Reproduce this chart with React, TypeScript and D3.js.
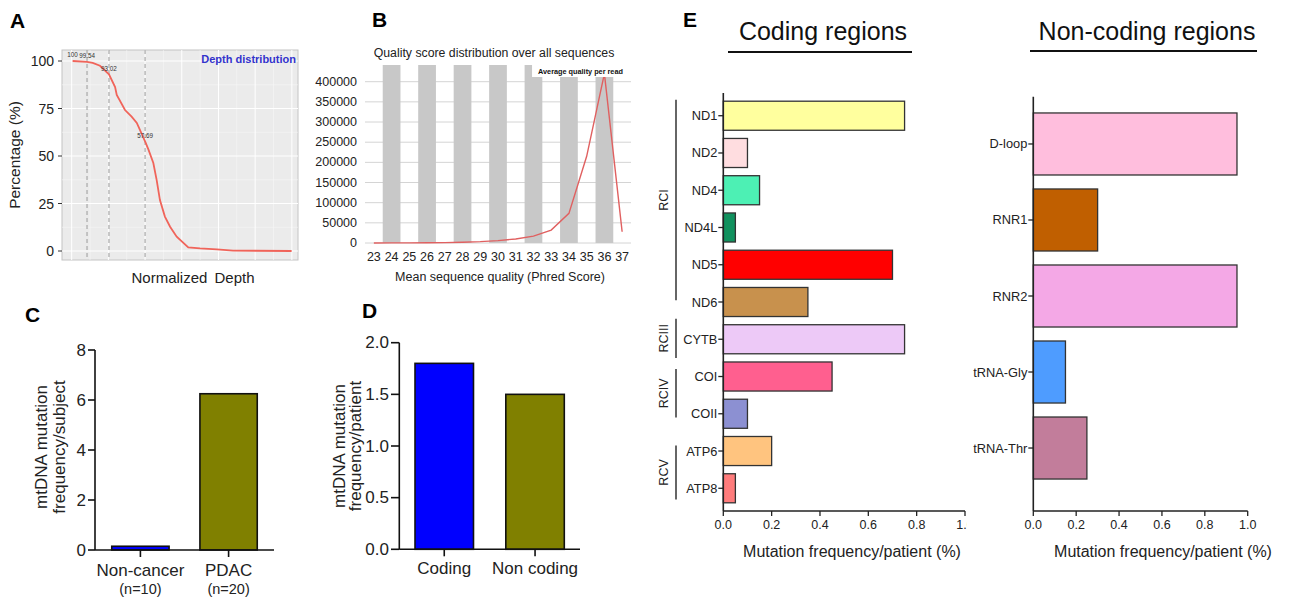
import React from 'react';
import * as d3 from 'd3';

const FONT = "'Liberation Sans', Arial, Helvetica, sans-serif";

// ---------- Panel A: depth distribution ----------
const depthX = [4.5, 10.6, 13, 16.1, 19.9, 22.5, 23.2, 26.7, 29.5, 31.7, 35.2, 36.6, 38.7, 40.1, 41.5, 43.6, 45.8, 48.6, 53.5, 58.5, 65.6, 72.5, 97.3];
const depthPct = [100, 99.54, 99, 97.5, 93.02, 86.3, 82.1, 74.2, 70.7, 67.4, 57.69, 53.5, 46.3, 37.4, 26.8, 18.1, 12.8, 7.5, 1.9, 1.4, 0.9, 0.2, 0];
const depthMarkX = [4.5, 10.6, 19.9, 35.2];
const depthMarkPct = [100, 99.54, 93.02, 57.69];
const depthMarkLabel = ['100', '99.54', '93.02', '57.69'];
const depthDashed = [10.6, 19.9, 35.2];
const depthTicks = [0, 25, 50, 75, 100];
const depthGrid = [4.1, 19.65, 35.2, 50.75, 66.3, 81.85, 97.4];

// ---------- Panel B: quality score ----------
const phredScores = [23, 24, 25, 26, 27, 28, 29, 30, 31, 32, 33, 34, 35, 36, 37];
const phredCounts = [100, 200, 300, 500, 1000, 2000, 3500, 6000, 10000, 17000, 32000, 73500, 215000, 420000, 28000];
const phredBands = [24, 26, 28, 30, 32, 34, 36];
const phredTicks = [0, 50000, 100000, 150000, 200000, 250000, 300000, 350000, 400000];

// ---------- Panel C ----------
const cohortNames = ['Non-cancer', 'PDAC'];
const cohortSizes = ['(n=10)', '(n=20)'];
const cohortValues = [0.15, 6.25];
const cohortColors = ['#0000ff', '#808000'];
const cohortTicks = [0, 2, 4, 6, 8];

// ---------- Panel D ----------
const regionTypes = ['Coding', 'Non coding'];
const regionValues = [1.8, 1.5];
const regionColors = ['#0000ff', '#808000'];
const regionTicks = [0, 0.5, 1.0, 1.5, 2.0];

// ---------- Panel E ----------
const codingGenes = ['ND1', 'ND2', 'ND4', 'ND4L', 'ND5', 'ND6', 'CYTB', 'COI', 'COII', 'ATP6', 'ATP8'];
const codingFreq = [0.75, 0.1, 0.15, 0.05, 0.7, 0.35, 0.75, 0.45, 0.1, 0.2, 0.05];
const codingColors = ['#ffff9e', '#ffdde0', '#4df0b4', '#11915e', '#ff0000', '#c8914d', '#edc9f7', '#ff5f8f', '#8c90d2', '#ffc47f', '#ff7c7c'];
const complexNames = ['RCI', 'RCIII', 'RCIV', 'RCV'];
const complexFrom = [-0.43, 5.45, 6.8, 8.85];
const complexTo = [4.95, 6.5, 8.1, 10.3];
const nonCodingGenes = ['D-loop', 'RNR1', 'RNR2', 'tRNA-Gly', 'tRNA-Thr'];
const nonCodingFreq = [0.95, 0.3, 0.95, 0.15, 0.25];
const nonCodingColors = ['#ffbedd', '#c05f00', '#f4a8e6', '#4e9cff', '#c27d9b'];
const freqTicks = [0, 0.2, 0.4, 0.6, 0.8, 1.0];

export default function App() {
  // Panel A scales
  const ax = d3.scaleLinear().domain([0, 100]).range([62, 298]);
  const ay = d3.scaleLinear().domain([0, 100]).range([251, 61]);
  const aPath = d3.line<number>().x((_, i) => ax(depthX[i])).y((d) => ay(d))(depthPct) || '';
  const aMinorY = depthTicks.slice(1).map((t) => t - 12.5);
  const aMinorX = depthGrid.slice(1).map((t, i) => (t + depthGrid[i]) / 2);

  // Panel B scales
  const bx = d3.scaleLinear().domain([22.5, 37.5]).range([365, 631]);
  const by = d3.scaleLinear().domain([0, 400000]).range([243, 81.7]);
  const bTop = 65;
  const bPath = d3.line<number>().x((_, i) => bx(phredScores[i])).y((d) => by(d))(phredCounts) || '';
  const legendX = bx(31.92);

  // Panel C scales
  const cy = d3.scaleLinear().domain([0, 8]).range([550, 350]);
  const cx = d3.scaleBand<string>().domain(cohortNames).range([95, 274]).paddingInner(0.35).paddingOuter(0.19);

  // Panel D scales
  const dy = d3.scaleLinear().domain([0, 2]).range([549.3, 342.7]);
  const dx = d3.scaleBand<string>().domain(regionTypes).range([399.3, 580]).paddingInner(0.356).paddingOuter(0.173);

  // Panel E scales
  const ex = d3.scaleLinear().domain([0, 1]).range([723.3, 965]);
  const ey = d3.scaleBand<string>().domain(codingGenes).range([93, 511]).padding(0.22);
  const eIdx = (i: number) => (ey(codingGenes[0]) as number) + ey.bandwidth() / 2 + i * ey.step();
  const fx = d3.scaleLinear().domain([0, 1]).range([1033.3, 1247.7]);
  const fy = d3.scaleBand<string>().domain(nonCodingGenes).range([97, 495]).paddingInner(0.184).paddingOuter(0.21);

  const fmt1 = d3.format('.1f');
  const markDy = [-4, -4, -3, -3];

  return (
    <svg width={1295} height={599} style={{ position: 'absolute', left: 0, top: 0, background: '#fff' }} fontFamily={FONT}>
      <defs>
        <clipPath id="eclip">
          <rect x={650} y={0} width={317} height={599} />
        </clipPath>
      </defs>
      <rect x={0} y={0} width={1295} height={599} fill="#fff" />

      {/* ================= Panel A ================= */}
      <text x={10} y={28} fontSize={21} fontWeight="bold" fill="#000">A</text>
      <rect x={62} y={50} width={236} height={210} fill="#ebebeb" stroke="#c4c4c4" strokeWidth={1} />
      {aMinorY.map((t) => (
        <line key={'amy' + t} x1={62} x2={298} y1={ay(t)} y2={ay(t)} stroke="#f6f6f6" strokeWidth={0.6} />
      ))}
      {aMinorX.map((t) => (
        <line key={'amx' + t} x1={ax(t)} x2={ax(t)} y1={50} y2={260} stroke="#f6f6f6" strokeWidth={0.6} />
      ))}
      {depthTicks.map((t) => (
        <line key={'ay' + t} x1={62} x2={298} y1={ay(t)} y2={ay(t)} stroke="#ffffff" strokeWidth={1} />
      ))}
      {depthGrid.map((t) => (
        <line key={'ax' + t} x1={ax(t)} x2={ax(t)} y1={50} y2={260} stroke="#ffffff" strokeWidth={1} />
      ))}
      {depthDashed.map((t) => (
        <line key={'ad' + t} x1={ax(t)} x2={ax(t)} y1={50} y2={260} stroke="#9a9a9a" strokeWidth={1} strokeDasharray="4,3" />
      ))}
      <path d={aPath} fill="none" stroke="#f0645a" strokeWidth={1.8} />
      {depthMarkX.map((x, i) => (
        <text key={'am' + i} x={ax(x)} y={ay(depthMarkPct[i]) + markDy[i]} fontSize={6.3} fill="#333" textAnchor="middle">
          {depthMarkLabel[i]}
        </text>
      ))}
      {depthTicks.map((t) => (
        <g key={'ayt' + t}>
          <line x1={58} x2={62} y1={ay(t)} y2={ay(t)} stroke="#333" strokeWidth={1} />
          <text x={54} y={ay(t)} fontSize={14} fill="#222" textAnchor="end" dominantBaseline="central">{t}</text>
        </g>
      ))}
      <text x={296} y={63} fontSize={11} fontWeight="bold" fill="#3333cc" textAnchor="end">Depth distribution</text>
      <text transform={`translate(20,155) rotate(-90)`} fontSize={15.5} fill="#222" textAnchor="middle">Percentage (%)</text>
      <text x={193} y={283} fontSize={15} fill="#222" textAnchor="middle" wordSpacing={3}>Normalized Depth</text>

      {/* ================= Panel B ================= */}
      <text x={372} y={27} fontSize={21} fontWeight="bold" fill="#000">B</text>
      <text x={494} y={57} fontSize={12.3} fill="#222" textAnchor="middle">Quality score distribution over all sequences</text>
      {phredTicks.map((t) => (
        <line key={'bg' + t} x1={365} x2={631} y1={by(t)} y2={by(t)} stroke="#d4d4d4" strokeWidth={1} />
      ))}
      {phredBands.map((q) => (
        <rect key={'bb' + q} x={bx(q - 0.5)} y={bTop} width={bx(q + 0.5) - bx(q - 0.5)} height={by(0) - bTop} fill="#c8c8c8" />
      ))}
      <path d={bPath} fill="none" stroke="#e06060" strokeWidth={1.4} />
      <rect x={legendX} y={bTop} width={631 - legendX} height={12} fill="#fff" />
      <text x={legendX + 6} y={74} fontSize={7.3} fontWeight="bold" fill="#111">Average quality per read</text>
      {phredTicks.map((t) => (
        <text key={'byt' + t} x={357} y={by(t)} fontSize={12.5} fill="#222" textAnchor="end" dominantBaseline="central">{t}</text>
      ))}
      {phredScores.map((q) => (
        <text key={'bxt' + q} x={bx(q)} y={261} fontSize={12.5} fill="#222" textAnchor="middle">{q}</text>
      ))}
      <text x={500} y={281} fontSize={12.5} fill="#222" textAnchor="middle">Mean sequence quality (Phred Score)</text>

      {/* ================= Panel C ================= */}
      <text x={25} y={322} fontSize={21} fontWeight="bold" fill="#000">C</text>
      {cohortNames.map((n, i) => (
        <rect key={'cb' + n} x={cx(n)} y={cy(cohortValues[i])} width={cx.bandwidth()} height={cy(0) - cy(cohortValues[i])}
          fill={cohortColors[i]} stroke="#111" strokeWidth={1.6} />
      ))}
      <line x1={95} x2={95} y1={cy(8)} y2={cy(0)} stroke="#111" strokeWidth={1.6} />
      <line x1={95} x2={274} y1={cy(0)} y2={cy(0)} stroke="#111" strokeWidth={1.6} />
      {cohortTicks.map((t) => (
        <g key={'cyt' + t}>
          <line x1={88} x2={95} y1={cy(t)} y2={cy(t)} stroke="#111" strokeWidth={1.6} />
          <text x={86} y={cy(t)} fontSize={17} fill="#222" textAnchor="end" dominantBaseline="central">{t}</text>
        </g>
      ))}
      {cohortNames.map((n, i) => {
        const c = (cx(n) as number) + cx.bandwidth() / 2;
        return (
          <g key={'cxt' + n}>
            <line x1={c} x2={c} y1={cy(0)} y2={cy(0) + 7} stroke="#111" strokeWidth={1.6} />
            <text x={c} y={576} fontSize={17} fill="#222" textAnchor="middle">{n}</text>
            <text x={c} y={594} fontSize={14.5} fill="#222" textAnchor="middle">{cohortSizes[i]}</text>
          </g>
        );
      })}
      <text transform={`translate(47,447) rotate(-90)`} fontSize={17} fill="#222" textAnchor="middle">mtDNA mutation</text>
      <text transform={`translate(65,447) rotate(-90)`} fontSize={17} fill="#222" textAnchor="middle">frequency/subject</text>

      {/* ================= Panel D ================= */}
      <text x={362} y={318} fontSize={21} fontWeight="bold" fill="#000">D</text>
      {regionTypes.map((n, i) => (
        <rect key={'db' + n} x={dx(n)} y={dy(regionValues[i])} width={dx.bandwidth()} height={dy(0) - dy(regionValues[i])}
          fill={regionColors[i]} stroke="#111" strokeWidth={1.6} />
      ))}
      <line x1={399.3} x2={399.3} y1={dy(2)} y2={dy(0)} stroke="#111" strokeWidth={1.6} />
      <line x1={399.3} x2={580} y1={dy(0)} y2={dy(0)} stroke="#111" strokeWidth={1.6} />
      {regionTicks.map((t) => (
        <g key={'dyt' + t}>
          <line x1={391} x2={399.3} y1={dy(t)} y2={dy(t)} stroke="#111" strokeWidth={1.6} />
          <text x={389} y={dy(t)} fontSize={17} fill="#222" textAnchor="end" dominantBaseline="central">{fmt1(t)}</text>
        </g>
      ))}
      {regionTypes.map((n) => {
        const c = (dx(n) as number) + dx.bandwidth() / 2;
        return (
          <g key={'dxt' + n}>
            <line x1={c} x2={c} y1={dy(0)} y2={dy(0) + 7} stroke="#111" strokeWidth={1.6} />
            <text x={c} y={574} fontSize={17} fill="#222" textAnchor="middle">{n}</text>
          </g>
        );
      })}
      <text transform={`translate(345,446) rotate(-90)`} fontSize={17} fill="#222" textAnchor="middle">mtDNA mutation</text>
      <text transform={`translate(361,446) rotate(-90)`} fontSize={17} fill="#222" textAnchor="middle">frequency/patient</text>

      {/* ================= Panel E: coding ================= */}
      <text x={683} y={27} fontSize={21} fontWeight="bold" fill="#000">E</text>
      <text x={823} y={40} fontSize={25} fill="#111" textAnchor="middle">Coding regions</text>
      <line x1={728} x2={912} y1={52} y2={52} stroke="#111" strokeWidth={2} />
      {codingGenes.map((g, i) => (
        <rect key={'eb' + g} x={ex(0)} y={ey(g)} width={ex(codingFreq[i]) - ex(0)} height={ey.bandwidth()}
          fill={codingColors[i]} stroke="#333" strokeWidth={1.3} />
      ))}
      <line x1={ex(0)} x2={ex(0)} y1={93} y2={511} stroke="#222" strokeWidth={1.6} />
      <line x1={ex(0)} x2={ex(1)} y1={511} y2={511} stroke="#222" strokeWidth={1.6} />
      {codingGenes.map((g) => {
        const c = (ey(g) as number) + ey.bandwidth() / 2;
        return (
          <g key={'eyt' + g}>
            <line x1={ex(0) - 5} x2={ex(0)} y1={c} y2={c} stroke="#222" strokeWidth={1.3} />
            <text x={ex(0) - 6} y={c} fontSize={12.8} fill="#222" textAnchor="end" dominantBaseline="central">{g}</text>
          </g>
        );
      })}
      <g clipPath="url(#eclip)">
        {freqTicks.map((t) => (
          <g key={'ext' + t}>
            <line x1={ex(t)} x2={ex(t)} y1={511} y2={516} stroke="#222" strokeWidth={1.3} />
            <text x={ex(t)} y={529} fontSize={12.5} fill="#222" textAnchor="middle">{fmt1(t)}</text>
          </g>
        ))}
      </g>
      {complexNames.map((n, i) => {
        const y1 = eIdx(complexFrom[i]);
        const y2 = eIdx(complexTo[i]);
        return (
          <g key={'cx' + n}>
            <line x1={676} x2={676} y1={y1} y2={y2} stroke="#333" strokeWidth={1.5} />
            <text transform={`translate(668,${(y1 + y2) / 2}) rotate(-90)`} fontSize={12.5} fill="#222" textAnchor="middle">{n}</text>
          </g>
        );
      })}
      <text x={852} y={557} fontSize={16} fill="#222" textAnchor="middle">Mutation frequency/patient (%)</text>

      {/* ================= Panel E: non-coding ================= */}
      <text x={1147} y={40} fontSize={25} fill="#111" textAnchor="middle">Non-coding regions</text>
      <line x1={1030} x2={1257} y1={51} y2={51} stroke="#111" strokeWidth={2} />
      {nonCodingGenes.map((g, i) => (
        <rect key={'fb' + g} x={fx(0)} y={fy(g)} width={fx(nonCodingFreq[i]) - fx(0)} height={fy.bandwidth()}
          fill={nonCodingColors[i]} stroke="#333" strokeWidth={1.3} />
      ))}
      <line x1={fx(0)} x2={fx(0)} y1={96.7} y2={511} stroke="#222" strokeWidth={1.6} />
      <line x1={fx(0)} x2={fx(1)} y1={511} y2={511} stroke="#222" strokeWidth={1.6} />
      {nonCodingGenes.map((g) => {
        const c = (fy(g) as number) + fy.bandwidth() / 2;
        return (
          <g key={'fyt' + g}>
            <line x1={fx(0) - 5} x2={fx(0)} y1={c} y2={c} stroke="#222" strokeWidth={1.3} />
            <text x={fx(0) - 6} y={c} fontSize={12.8} fill="#222" textAnchor="end" dominantBaseline="central">{g}</text>
          </g>
        );
      })}
      {freqTicks.map((t) => (
        <g key={'fxt' + t}>
          <line x1={fx(t)} x2={fx(t)} y1={511} y2={516} stroke="#222" strokeWidth={1.3} />
          <text x={fx(t)} y={529} fontSize={12.5} fill="#222" textAnchor="middle">{fmt1(t)}</text>
        </g>
      ))}
      <text x={1163} y={557} fontSize={16} fill="#222" textAnchor="middle">Mutation frequency/patient (%)</text>
    </svg>
  );
}
